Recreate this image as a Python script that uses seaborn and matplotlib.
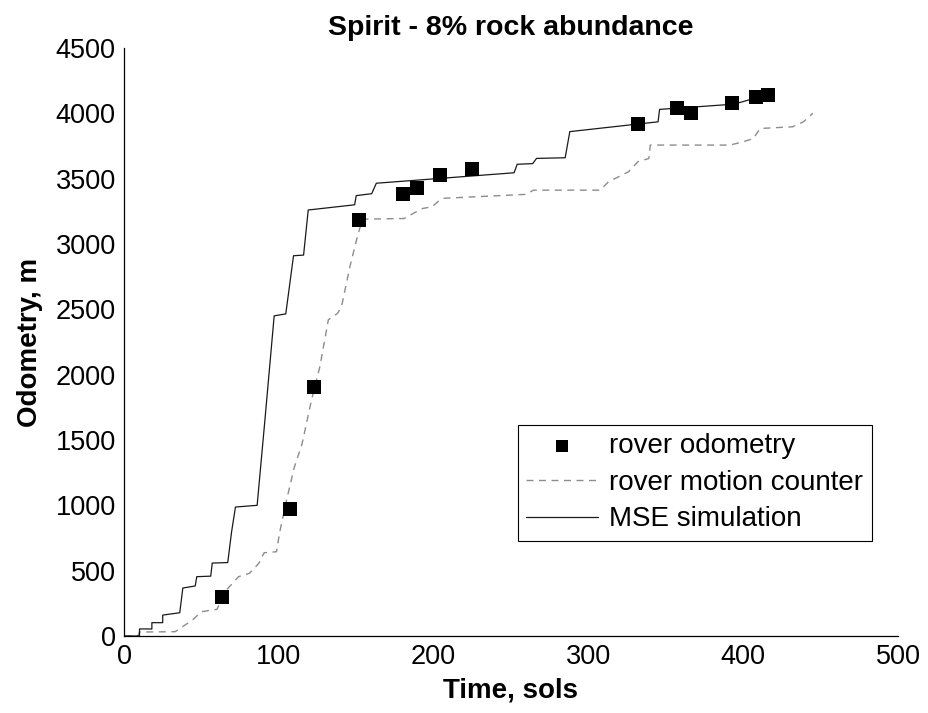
import matplotlib
matplotlib.use('Agg')
import matplotlib.pyplot as plt
import seaborn as sns

# MSE simulation (solid line)
mse_sols = [0, 10, 10, 18, 18, 25, 25, 36, 38, 46, 47, 56, 57, 67, 69.5, 72, 86,
            91, 97, 104.5, 109.5, 116, 119, 149, 150, 160, 163, 252, 254, 264,
            266.5, 285, 288, 345, 346, 394, 418]
mse_odo = [0, 0, 54, 54, 102, 102, 160, 178, 367, 383, 454, 458, 558, 562, 798, 987, 1000,
           1650, 2450, 2465, 2910, 2915, 3260, 3300, 3370, 3385, 3465, 3545, 3610, 3615,
           3655, 3660, 3860, 3935, 4030, 4070, 4150]

# rover motion counter (dashed line)
mc_sols = [0, 9, 10, 33, 37, 44, 50, 60, 66, 74, 81, 87, 90.5, 98.5, 100.5, 105, 110,
           115, 121, 126.5, 132, 138, 140.5, 146, 150.5, 154, 181, 187, 193, 199, 204,
           207, 260, 264.5, 307.5, 313, 326, 332, 339, 340, 391.5, 400, 406.5, 411,
           432, 439, 445]
mc_odo = [0, 0, 30, 33, 65, 120, 186, 204, 350, 454, 480, 555, 637, 645, 790, 1040, 1290,
          1470, 1800, 2060, 2420, 2470, 2520, 2830, 3045, 3190, 3195, 3235, 3272, 3285, 3336,
          3350, 3380, 3412, 3412, 3476, 3553, 3630, 3654, 3757, 3757, 3782, 3807, 3884,
          3897, 3936, 4000]

# rover odometry (squares)
odo_sols = [63, 107, 123, 152, 180, 189, 204, 225, 332, 357, 366, 393, 408, 416]
odo_m = [300, 970, 1905, 3180, 3385, 3430, 3530, 3575, 3917, 4040, 4000, 4080, 4126, 4140]

sns.set_style('white')
plt.rcParams['font.family'] = ['Liberation Sans', 'DejaVu Sans']
plt.rcParams['text.color'] = 'black'
plt.rcParams['axes.labelcolor'] = 'black'

fig = plt.figure(figsize=(9.29, 7.13), dpi=100)
ax = fig.add_axes([0.1335, 0.108, 0.8331, 0.8247])

sns.scatterplot(x=odo_sols, y=odo_m, marker='s', s=115, color='black', edgecolor='black',
                linewidth=0, ax=ax, label='rover odometry', zorder=3)
sns.lineplot(x=mc_sols, y=mc_odo, sort=False, estimator=None, color='#8c8c8c',
             linewidth=1.0, ax=ax, label='rover motion counter')
ax.lines[-1].set_dashes((5, 4))
sns.lineplot(x=mse_sols, y=mse_odo, sort=False, estimator=None, color='#1a1a1a',
             linewidth=0.9, ax=ax, label='MSE simulation')

ax.set_xlim(0, 500)
ax.set_ylim(0, 4500)
ax.set_xticks(range(0, 501, 100))
ax.set_yticks(range(0, 4501, 500))
ax.tick_params(direction='in', length=5, width=0.8, labelsize=19.5, colors='black', pad=6)
for side in ['top', 'right']:
    ax.spines[side].set_visible(False)
for side in ['left', 'bottom']:
    ax.spines[side].set_color('black')
    ax.spines[side].set_linewidth(0.9)

ax.set_title('Spirit - 8% rock abundance', fontsize=20.5, fontweight='bold', pad=9,
             color='black')
ax.set_xlabel('Time, sols', fontsize=20, fontweight='bold', labelpad=5)
ax.set_ylabel('Odometry, m', fontsize=20, fontweight='bold', labelpad=9)

handles, labels = ax.get_legend_handles_labels()
handles[1].set_dashes((5, 4))
leg = ax.legend(handles, labels, loc='lower right', bbox_to_anchor=(0.966, 0.162),
                borderaxespad=0, fontsize=20, frameon=True, fancybox=False,
                edgecolor='black', framealpha=1, handlelength=2.6, handletextpad=0.4,
                labelspacing=0.38, borderpad=0.3, markerscale=0.75)
leg.get_frame().set_linewidth(0.8)

fig.savefig('out.png', dpi=100)
